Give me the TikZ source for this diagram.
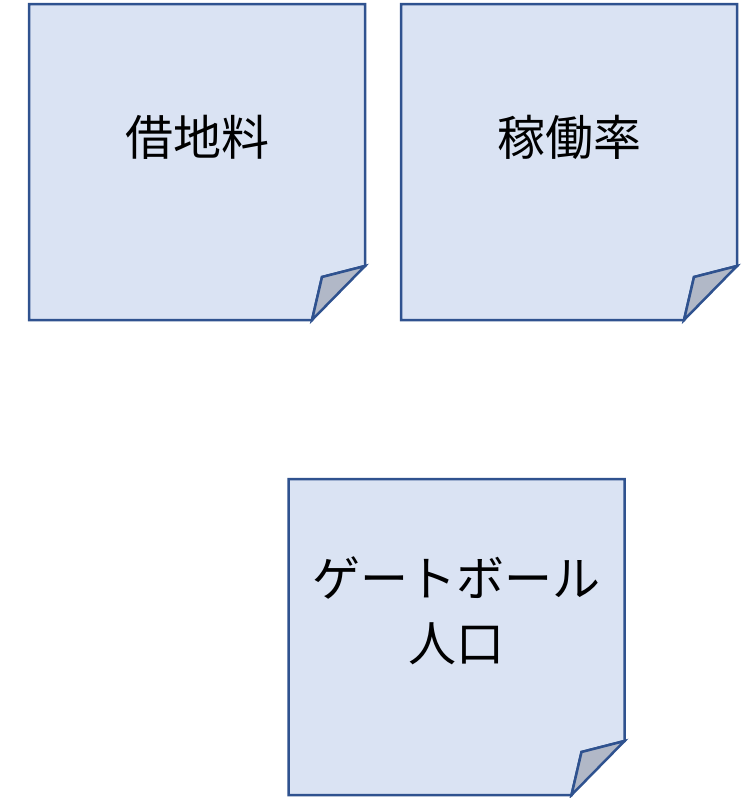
\documentclass[tikz,border=0pt]{standalone}
\usepackage{fontspec}
\newfontfamily\jp{Noto Sans CJK JP}
\definecolor{notefill}{HTML}{DAE3F3}
\definecolor{noteline}{HTML}{2F528F}
\definecolor{foldfill}{HTML}{B1B8C7}
\tikzset{
  notebox/.style={minimum width=336pt, minimum height=316pt, inner sep=0pt, outer sep=0pt},
  notetext/.style={font=\jp\fontsize{48}{65}\selectfont, align=center, text=black},
  noteedge/.style={draw=noteline, line width=2.5pt, line join=miter}
}
\newcommand{\drawnote}[1]{%
  \path[noteedge, fill=notefill] (#1.north west) -- (#1.north east) -- ([yshift=54pt]#1.south east)
    -- ([xshift=-43pt,yshift=43pt]#1.south east) -- ([xshift=-53pt]#1.south east) -- (#1.south west) -- cycle;
  \path[noteedge, fill=foldfill] ([yshift=54pt]#1.south east) -- ([xshift=-43pt,yshift=43pt]#1.south east)
    -- ([xshift=-53pt]#1.south east) -- cycle;
}
\begin{document}
\begin{tikzpicture}[x=1pt,y=-1pt]
\useasboundingbox (0,0) rectangle (747,798);
\node[notebox] (n1) at (197,162) {};
\node[notebox] (n2) at (569,162) {};
\node[notebox] (n3) at (456.5,637) {};
\drawnote{n1}
\drawnote{n2}
\drawnote{n3}
\node[notetext] (t1) at (197,137) {借地料};
\node[notetext] (t2) at (569,137) {稼働率};
\node[notetext] (t3) at (456.5,611) {ゲートボール\\人口};
\end{tikzpicture}
\end{document}
